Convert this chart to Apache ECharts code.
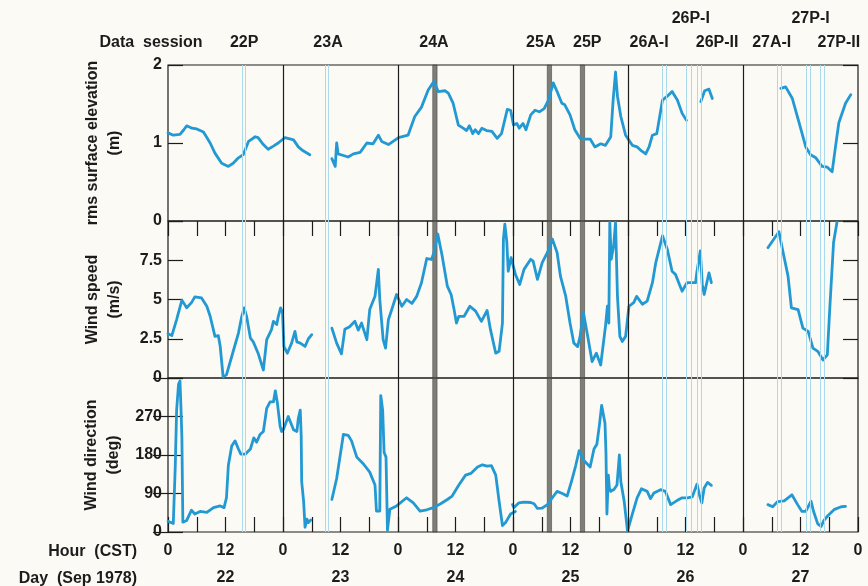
<!DOCTYPE html>
<html><head><meta charset="utf-8">
<script src="https://cdn.jsdelivr.net/npm/echarts@6/dist/echarts.min.js"></script>
<style>html,body{margin:0;padding:0;background:#fbfaf4;}#c{width:868px;height:586px;}</style>
</head><body><div id="c"></div>
<script>
// ---- data ----
const dayLabels = ['22', '23', '24', '25', '26', '27'];
const hourTickLabels = ['0', '12'];
const dayBoundaries = [24, 48, 72, 96, 120];
const sessionLabels = [
  { name: '22P', h: 15.9, row: 0 }, { name: '23A', h: 33.4, row: 0 },
  { name: '24A', h: 55.5, row: 0 }, { name: '25A', h: 77.8, row: 0 },
  { name: '25P', h: 87.5, row: 0 }, { name: '26A-I', h: 100.4, row: 0 },
  { name: '26P-I', h: 109.1, row: 1 }, { name: '26P-II', h: 114.6, row: 0 },
  { name: '27A-I', h: 126.0, row: 0 }, { name: '27P-I', h: 134.1, row: 1 },
  { name: '27P-II', h: 140.0, row: 0 }
];
const cyanBands = [[15.4, 16.2], [32.8, 33.5], [103.2, 104.0], [108.2, 109.1], [110.5, 111.3],
  [127.2, 128.0], [133.3, 134.1], [136.1, 136.9]];
const grayBands = [[55.25, 56.15], [79.15, 80.05], [86.05, 86.95]];

const rmsElevation = [
  [0, 1.13], [1.1, 1.10], [2.5, 1.11], [3.3, 1.17], [3.9, 1.22], [5, 1.19], [6, 1.18], [7.4, 1.14], [8.8, 1.0],
  [9.8, 0.87], [11.2, 0.74], [12.6, 0.70], [13.6, 0.74], [14.7, 0.81], [15.7, 0.85], [16.8, 1.02], [17.5, 1.05],
  [18.2, 1.08], [18.8, 1.07], [19.9, 0.98], [20.9, 0.92], [22.0, 0.96], [23.0, 1.0], [24.4, 1.07], [26.2, 1.04],
  [27.2, 0.95], [28.2, 0.90], [29.6, 0.85], [31, null],
  [34.2, 0.80], [34.9, 0.70], [35.2, 1.0], [35.5, 0.86], [36.6, 0.84], [37.6, 0.82], [38.7, 0.86], [40.1, 0.88],
  [41.5, 1.0], [42.8, 0.99], [43.9, 1.10], [44.6, 1.02], [46.0, 0.98], [48.1, 1.07], [50.1, 1.10], [51.5, 1.34],
  [52.9, 1.46], [54.3, 1.68], [55.5, 1.79], [56.4, 1.66], [57.8, 1.67], [58.5, 1.64], [59.5, 1.51], [60.6, 1.23],
  [61.6, 1.19], [62.3, 1.16], [62.9, 1.22], [63.6, 1.12], [64.1, 1.17], [64.8, 1.12], [65.5, 1.19], [66.5, 1.16],
  [67.6, 1.15], [68.7, 1.06], [69.6, 1.12], [70.8, 1.43], [71.5, 1.42], [72.1, 1.23], [72.8, 1.25], [73.3, 1.19],
  [74.1, 1.25], [74.7, 1.17], [75.7, 1.36], [76.6, 1.42], [77.5, 1.40], [78.5, 1.44], [79.4, 1.55], [80.4, 1.77],
  [81.2, 1.66], [82.2, 1.51], [82.8, 1.49], [83.9, 1.36], [84.9, 1.17], [86.0, 1.06], [87.0, 1.05], [88.1, 1.05],
  [89.1, 0.95], [90.3, 0.99], [91.3, 0.97], [92.4, 1.08], [92.9, 1.55], [93.4, 1.91], [93.8, 1.60], [94.5, 1.34],
  [95.5, 1.10], [96.9, 0.97], [97.9, 0.95], [98.6, 0.91], [99.7, 0.86], [100.4, 0.95], [101.1, 1.10], [102.0, 1.12],
  [103.2, 1.55], [104.2, 1.60], [105.2, 1.66], [106.3, 1.55], [107.3, 1.38], [108.2, 1.29], [109.5, null],
  [111.2, 1.53], [112.0, 1.67], [112.9, 1.69], [113.6, 1.57], [120, null],
  [127.9, 1.70], [128.9, 1.72], [130.3, 1.57], [131.7, 1.26], [133.1, 0.95], [134.1, 0.85], [135.2, 0.81],
  [136.5, 0.70], [137.6, 0.69], [138.6, 0.63], [139.3, 0.95], [140.0, 1.26], [141.4, 1.51], [142.5, 1.62]
];

const windSpeed = [
  [0, 2.82], [0.8, 2.7], [1.8, 3.72], [2.9, 4.96], [3.9, 4.47], [4.9, 4.8], [5.6, 5.17], [7.0, 5.1], [8.1, 4.57],
  [8.8, 3.93], [9.8, 2.65], [10.5, 2.7], [10.9, 2.0], [11.5, 0.08], [12.2, 0.2], [13.3, 1.37], [14.7, 2.86],
  [15.4, 3.93], [15.9, 4.47], [16.4, 3.93], [17.2, 2.54], [17.8, 2.3], [18.8, 1.58], [19.9, 0.51], [20.3, 0.41],
  [20.6, 2.44], [21.6, 3.08], [22.0, 3.61], [22.7, 3.4], [23.0, 3.9], [23.5, 4.47], [23.9, 4.15], [24.2, 2.0],
  [24.9, 1.58], [25.8, 2.22], [26.5, 2.97], [26.9, 2.3], [27.6, 2.22], [28.6, 2.01], [29.3, 2.5], [30.0, 2.76],
  [31, null],
  [34.2, 3.18], [35.2, 2.22], [36.2, 1.54], [36.9, 3.1], [37.9, 3.27], [39.0, 3.61], [39.7, 3.05], [40.4, 3.5],
  [41.5, 2.44], [42.1, 4.36], [43.2, 5.21], [43.9, 6.92], [44.2, 5.0], [44.9, 2.44], [45.4, 1.9], [46.0, 3.72],
  [46.7, 4.36], [47.7, 5.32], [48.8, 4.57], [49.8, 5.0], [50.9, 4.75], [51.9, 5.2], [52.9, 6.07], [54.0, 7.61],
  [55.0, 7.55], [55.5, 7.99], [56.3, 9.17], [57.2, 7.8], [58.3, 5.85], [59.1, 5.3], [59.7, 4.36], [60.2, 3.5],
  [60.7, 3.93], [61.8, 3.93], [63.0, 4.57], [64.2, 4.26], [65.4, 3.61], [66.6, 4.3], [67.3, 3.08], [68.4, 1.58],
  [69.1, 1.7], [69.8, 3.5], [70.0, 8.85], [70.3, 9.8], [70.7, 8.7], [71.0, 6.8], [71.6, 7.67], [72.5, 6.6],
  [73.4, 5.96], [74.3, 6.92], [75.7, 7.56], [76.2, 7.45], [77.1, 6.28], [78.1, 7.35], [79.5, 8.2], [80.2, 8.85],
  [81.2, 7.99], [81.9, 6.49], [83.0, 5.21], [83.9, 3.5], [84.7, 2.22], [85.5, 2.0], [86.0, 2.65], [86.7, 4.15],
  [87.6, 2.65], [88.5, 1.05], [89.4, 1.58], [90.3, 0.83], [90.6, 0.94], [91.3, 3.29], [91.7, 4.57], [92.0, 3.5],
  [92.2, 9.91], [92.5, 7.56], [93.0, 8.4], [93.4, 9.91], [93.8, 5.2], [94.3, 2.65], [94.8, 2.33], [95.5, 2.65],
  [96.2, 4.57], [97.2, 4.8], [97.8, 5.2], [99.0, 4.7], [100.0, 4.9], [101.1, 6.07], [101.8, 7.35], [103.2, 9.06],
  [104.2, 8.2], [105.2, 6.8], [105.9, 6.6], [107.3, 5.53], [108.3, 6.07], [110.1, 6.07], [110.4, 6.8], [111.1, 8.1],
  [111.5, 5.96], [111.9, 5.32], [112.9, 6.7], [113.4, 6.07], [120, null],
  [125.2, 8.3], [127.5, 9.32], [128.3, 8.1], [129.4, 6.49], [130.1, 4.47], [131.5, 4.36], [132.5, 3.18],
  [133.6, 2.97], [134.6, 1.9], [135.6, 1.7], [136.7, 1.15], [137.6, 1.47], [138.1, 4.36], [138.9, 8.63], [139.6, 9.91]
];

const windDirection = [
  [0, 25], [1.1, 20], [1.5, 148], [1.8, 285], [2.2, 346], [2.5, 353], [2.7, 292], [2.9, 220], [3.1, 23], [3.9, 27],
  [4.9, 51], [5.6, 42], [6.7, 48], [8.1, 46], [9.5, 57], [10.9, 61], [11.7, 57], [12.2, 80], [12.6, 156], [13.3, 201],
  [14.0, 213], [14.7, 194], [15.2, 182], [16.1, 182], [17.2, 194], [17.9, 220], [18.5, 210], [19.2, 228], [19.9, 235],
  [20.6, 289], [21.3, 304], [22.0, 304], [22.4, 330], [22.8, 304], [23.4, 247], [23.7, 235], [24.1, 240], [25.1, 270],
  [26.2, 239], [26.9, 235], [27.2, 266], [27.6, 285], [27.8, 224], [27.9, 118], [28.3, 72], [28.6, 11], [29.0, 30],
  [29.3, 22], [29.8, 28], [31, null],
  [34.2, 76], [35.2, 125], [36.6, 228], [37.6, 226], [38.3, 213], [39.4, 175], [40.8, 159], [42.1, 140], [43.2, 110],
  [43.5, 49], [44.2, 49], [44.4, 319], [44.8, 285], [45.1, 186], [45.5, 175], [45.8, 4], [46.3, 53], [47.7, 61],
  [49.8, 80], [51.2, 68], [52.6, 49], [54.0, 52], [55.4, 57], [56.9, 66], [58.3, 76], [59.3, 84], [60.7, 110],
  [62.1, 133], [63.2, 137], [64.6, 152], [65.6, 157], [66.6, 154], [67.5, 155], [68.4, 133], [69.1, 72], [69.8, 15],
  [70.5, 23], [71.5, 42], [72.5, 48], [72.5, null],
  [71.9, 64], [72.2, 57], [73.2, 68], [74.3, 70], [75.7, 69], [76.4, 66], [77.1, 55], [78.1, 56], [79.2, 64],
  [80.2, 80], [81.2, 95], [82.3, 90], [83.3, 84], [84.2, 118], [85.1, 156], [85.8, 190], [86.8, 167], [88.1, 152],
  [88.9, 194], [89.5, 205], [90.0, 247], [90.5, 296], [90.9, 292], [91.2, 254], [91.4, 186], [91.6, 42], [91.9, 133],
  [92.1, 103], [92.4, 95], [93.1, 100], [93.7, 110], [94.2, 180], [94.5, 118], [95.2, 72], [95.9, 2], [96.9, 42],
  [97.9, 80], [98.8, 101], [100.0, 95], [100.7, 78], [101.4, 91], [102.8, 99], [103.8, 95], [104.9, 64], [106.3, 74],
  [107.3, 80], [108.4, 80], [109.4, 82], [110.4, 112], [110.9, 87], [111.4, 68], [111.9, 103], [112.6, 116],
  [113.4, 109], [120, null],
  [125.2, 64], [126.2, 59], [127.2, 71], [128.6, 73], [130.2, 87], [131.4, 64], [132.3, 48], [133.1, 48], [134.2, 72],
  [134.7, 49], [135.6, 19], [136.3, 13], [136.9, 27], [137.7, 38], [139.1, 53], [140.5, 59], [141.4, 60]
];

// ---- styles ----
const FONT = 'Liberation Sans, Arial, sans-serif';
const INK = '#1c1c1c';
const BLUE = '#2399d3';
const CYAN = '#a9dbec';
const labelStyle = { color: INK, fontFamily: FONT, fontWeight: 'bold', fontSize: 16 };
const tickStyle = { color: INK, width: 1.2 };

function xAxisFor(grid, opts) {
  return Object.assign({
    gridIndex: grid, type: 'value', min: 0, max: 144, interval: 6,
    axisLine: { show: false }, splitLine: { show: false },
    axisTick: { show: false }, axisLabel: { show: false }
  }, opts);
}
function yPair(grid, max, interval, name, hideMax) {
  return [{
    gridIndex: grid, type: 'value', min: 0, max: max, interval: interval, position: 'left',
    axisLine: { show: false }, splitLine: { show: false },
    axisTick: { show: true, inside: true, length: 15, lineStyle: tickStyle },
    axisLabel: Object.assign({ margin: 6, formatter: v => (hideMax && v === max ? '' : String(v)) }, labelStyle),
    name: name, nameLocation: 'middle', nameRotate: 90, nameGap: 42,
    nameTextStyle: Object.assign({ lineHeight: 22, align: 'center' }, labelStyle)
  }, {
    gridIndex: grid, type: 'value', min: 0, max: max, interval: interval, position: 'right',
    axisLine: { show: false }, splitLine: { show: false },
    axisTick: { show: true, inside: true, length: 15, lineStyle: tickStyle },
    axisLabel: { show: false }
  }];
}

const markSeries = (grid, yIdx) => ({
  type: 'line', xAxisIndex: grid, yAxisIndex: yIdx, data: [], z: 5, silent: true,
  markLine: {
    silent: true, symbol: 'none', label: { show: false }, animation: false,
    data: dayBoundaries.map(h => ({ xAxis: h, lineStyle: { color: INK, width: 1.2, type: 'solid' } }))
      .concat(cyanBands.flatMap(b => b.map(h => ({ xAxis: h, lineStyle: { color: CYAN, width: 1, type: 'solid' } }))))
  },
  markArea: {
    silent: true, animation: false,
    itemStyle: { color: 'rgba(100,100,92,0.82)', borderColor: 'rgba(60,60,55,0.9)', borderWidth: 0.6 },
    data: grayBands.map(b => [{ xAxis: b[0] }, { xAxis: b[1] }])
  }
});

const dataLine = (d, grid, yIdx) => ({
  type: 'line', xAxisIndex: grid, yAxisIndex: yIdx, data: d, showSymbol: false, z: 3,
  lineStyle: { color: BLUE, width: 2.8, join: 'round', cap: 'round' }, silent: true
});

const option = {
  animation: false,
  backgroundColor: '#fbfaf4',
  grid: [
    { left: 168, top: 65, width: 690, height: 156, show: true, borderColor: INK, borderWidth: 1.2, backgroundColor: 'transparent' },
    { left: 168, top: 221, width: 690, height: 157, show: true, borderColor: INK, borderWidth: 1.2, backgroundColor: 'transparent' },
    { left: 168, top: 378, width: 690, height: 157, show: true, borderColor: INK, borderWidth: 1.2, backgroundColor: 'transparent' }
  ],
  xAxis: [
    xAxisFor(0, { position: 'top', axisTick: { show: true, inside: true, length: 15, lineStyle: tickStyle } }),
    xAxisFor(1, {}),
    xAxisFor(2, {
      position: 'bottom',
      axisTick: { show: true, inside: true, length: 15, lineStyle: tickStyle },
      axisLabel: Object.assign({
        show: true, margin: 11, showMinLabel: true, showMaxLabel: true,
        formatter: v => (v % 12 === 0 ? hourTickLabels[(v % 24) / 12] : '')
      }, labelStyle)
    }),
    xAxisFor(2, {
      position: 'bottom', offset: 28, interval: 12,
      axisLabel: Object.assign({
        show: true, margin: 10,
        formatter: v => (v % 24 === 12 ? dayLabels[Math.floor(v / 24)] : '')
      }, labelStyle)
    })
  ],
  yAxis: [].concat(
    yPair(0, 2, 1, 'rms surface elevation\n(m)', false),
    yPair(1, 10, 2.5, 'Wind speed\n(m/s)', true),
    yPair(2, 360, 90, 'Wind direction\n(deg)', true)
  ),
  series: [
    dataLine(rmsElevation, 0, 0),
    dataLine(windSpeed, 1, 2),
    dataLine(windDirection, 2, 4),
    markSeries(0, 0), markSeries(1, 2), markSeries(2, 4)
  ]
};

const chart = echarts.init(document.getElementById('c'), null, { renderer: 'canvas' });
chart.setOption(option);

const textFont = 'bold 16px ' + FONT;
const graphics = sessionLabels.map(s => {
  const p = chart.convertToPixel({ xAxisIndex: 0, yAxisIndex: 0 }, [s.h, 2]);
  return {
    type: 'text', x: p[0], y: s.row ? 19 : 43, silent: true,
    style: { text: s.name, align: 'center', verticalAlign: 'middle', font: textFont, fill: INK }
  };
});
graphics.push(
  { type: 'text', x: 151, y: 43, style: { text: 'Data  session', align: 'center', verticalAlign: 'middle', font: textFont, fill: INK } },
  { type: 'text', x: 137, y: 552, style: { text: 'Hour  (CST)', align: 'right', verticalAlign: 'middle', font: textFont, fill: INK } },
  { type: 'text', x: 137, y: 579, style: { text: 'Day  (Sep 1978)', align: 'right', verticalAlign: 'middle', font: textFont, fill: INK } }
);
chart.setOption({ graphic: graphics });
</script>
</body></html>
